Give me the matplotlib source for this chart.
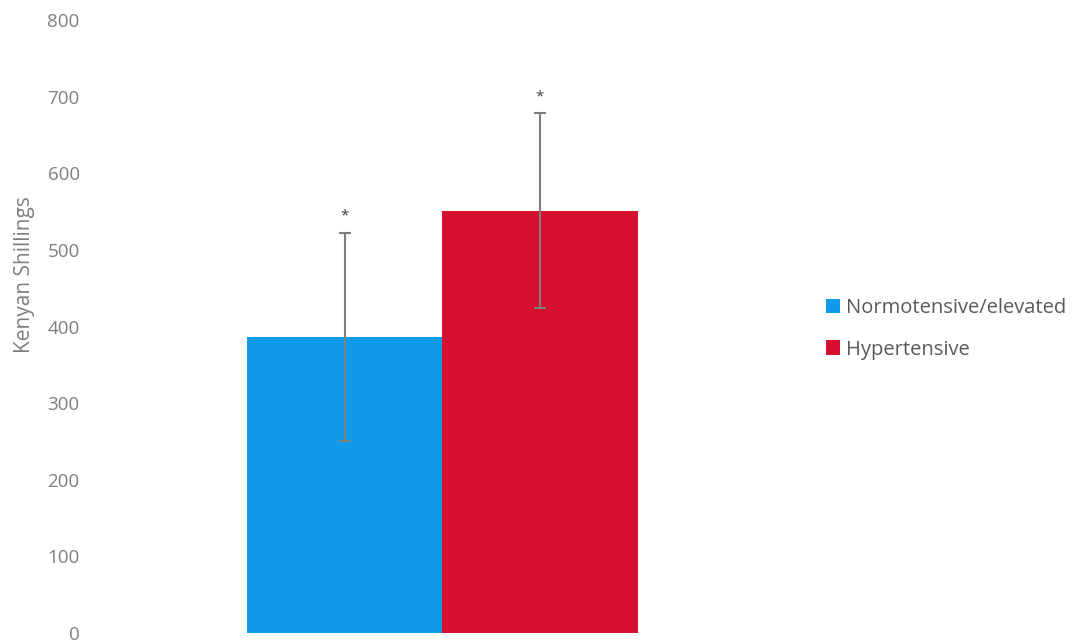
import matplotlib.pyplot as plt
from matplotlib.patches import Patch

plt.rcParams['font.family'] = ['Open Sans', 'DejaVu Sans']

# data
groups = ["Normotensive/elevated", "Hypertensive"]
means = [386, 551]
errors = [136, 127]
colors = ["#0f9be8", "#d6102e"]
yticks = [0, 100, 200, 300, 400, 500, 600, 700, 800]

fig = plt.figure(figsize=(10.8, 6.43), dpi=100)
ax = fig.add_axes([95 / 1080, 10 / 643, 695 / 1080, 613 / 643])

x = [0, 1]
ax.bar(x, means, width=1.0, color=colors, edgecolor="none", zorder=2)
ax.errorbar(x, means, yerr=errors, fmt="none", ecolor="#7f7f7f",
            elinewidth=1.5, capsize=4, capthick=1.5, zorder=3)

# significance markers above the upper caps
for xi, m, e in zip(x, means, errors):
    ax.text(xi, m + e + 12, "*", ha="center", va="bottom",
            fontsize=11, color="#404040")

ax.set_xlim(-1.282, 2.282)
ax.set_ylim(0, 800)
ax.set_yticks(yticks)
ax.set_yticklabels([str(t) for t in yticks], fontsize=13.5, color="#7f7f7f")
ax.set_xticks([])
ax.tick_params(axis="y", length=0, pad=11)
for s in ax.spines.values():
    s.set_visible(False)

fig.text(25 / 1080, 1 - 275 / 643, "Kenyan Shillings", rotation=90,
         ha="center", va="center", fontsize=15, color="#7f7f7f")

handles = [Patch(facecolor=c, edgecolor="none") for c in colors]
fig.legend(handles, groups, loc="center left", bbox_to_anchor=(826 / 1080, 1 - 329 / 643),
           frameon=False, fontsize=14.5, labelcolor="#595959",
           handlelength=0.7, handleheight=0.7, handletextpad=0.3,
           labelspacing=1.05, borderaxespad=0, borderpad=0)

fig.savefig("out.png", dpi=100)
